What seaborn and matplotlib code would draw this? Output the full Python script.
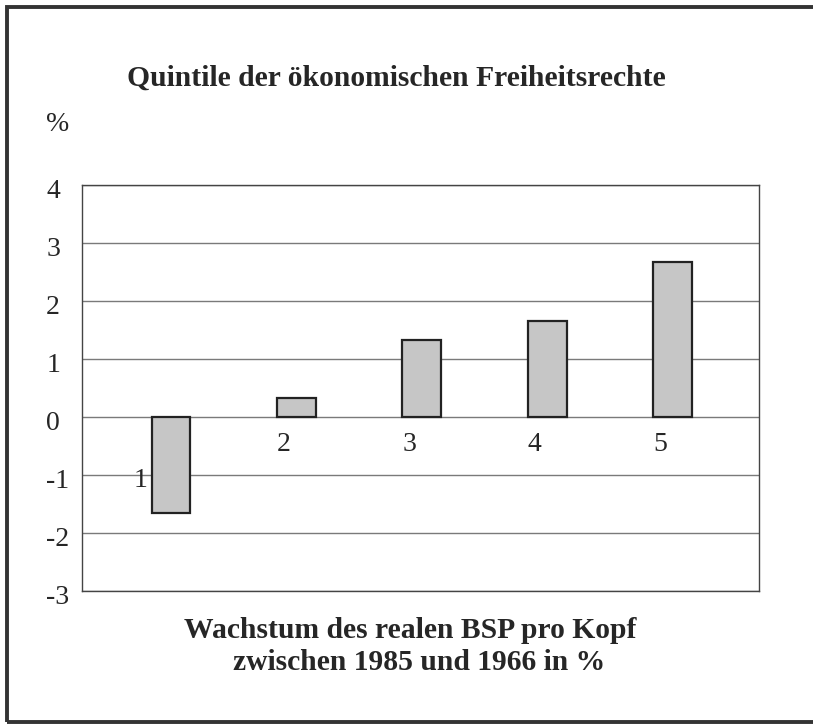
import pandas as pd
import seaborn as sns
import matplotlib.pyplot as plt
import matplotlib.transforms as mtransforms
from matplotlib.patches import Rectangle

# Daten: Wachstum des realen BSP pro Kopf je Quintil (%)
quintile = ["1", "2", "3", "4", "5"]
wachstum = [-1.65, 0.32, 1.33, 1.65, 2.67]
y_ticks = [-3, -2, -1, 0, 1, 2, 3, 4]

df = pd.DataFrame({"quintil": quintile, "wachstum": wachstum})

sns.set_style("white")
plt.rcParams["font.family"] = ["Liberation Serif", "DejaVu Serif"]

fig = plt.figure(figsize=(8.13, 7.25), dpi=100)
ax = fig.add_axes([0.1012, 0.1848, 0.8324, 0.56])

sns.barplot(
    data=df,
    x="quintil",
    y="wachstum",
    order=quintile,
    color="#c6c6c6",
    edgecolor="#222222",
    linewidth=1.6,
    width=0.31,
    saturation=1,
    ax=ax
)

ax.set_xlim(-0.707, 4.689)
ax.set_ylim(-3, 4)
ax.set_yticks(y_ticks)
ax.set_yticklabels([str(t) for t in y_ticks], fontsize=20)
ax.tick_params(axis="y", length=0, pad=26)
shift = mtransforms.ScaledTranslation(0, -3 / 100, fig.dpi_scale_trans)
for lab in ax.get_yticklabels():
    lab.set_ha("left")
    lab.set_transform(lab.get_transform() + shift)
ax.set_xticks([])
ax.set_xlabel("")
ax.set_ylabel("")

ax.yaxis.grid(True, color="#7a7a7a", linewidth=1)
ax.set_axisbelow(True)
for s in ax.spines.values():
    s.set_color("#444444")
    s.set_linewidth(1)

# Quintil-Nummern im Diagramm
for i, (q, v) in enumerate(zip(quintile, wachstum)):
    if v < 0:
        ax.annotate(q, (i, 0), xytext=(-22, -46), textcoords="offset points",
                    ha="center", va="center", fontsize=20)
    else:
        ax.annotate(q, (i, 0), xytext=(-9, -20), textcoords="offset points",
                    ha="center", va="center", fontsize=20)

fig.text(0.488, 0.892, "Quintile der ökonomischen Freiheitsrechte",
         ha="center", va="center", fontsize=21.3, fontweight="bold")
fig.text(0.056, 0.828, "%", ha="left", va="center", fontsize=20)
fig.text(0.504, 0.131, "Wachstum des realen BSP pro Kopf",
         ha="center", va="center", fontsize=21.3, fontweight="bold")
fig.text(0.515, 0.086, "zwischen 1985 und 1966 in %",
         ha="center", va="center", fontsize=21.3, fontweight="bold")

# Rahmen um die Grafik
fig.patches.append(Rectangle((0.0086, 0.0041), 1.2, 0.9862,
                             transform=fig.transFigure, fill=False,
                             edgecolor="#333333", linewidth=2.8))

plt.savefig("out.png", dpi=100)
plt.close()
